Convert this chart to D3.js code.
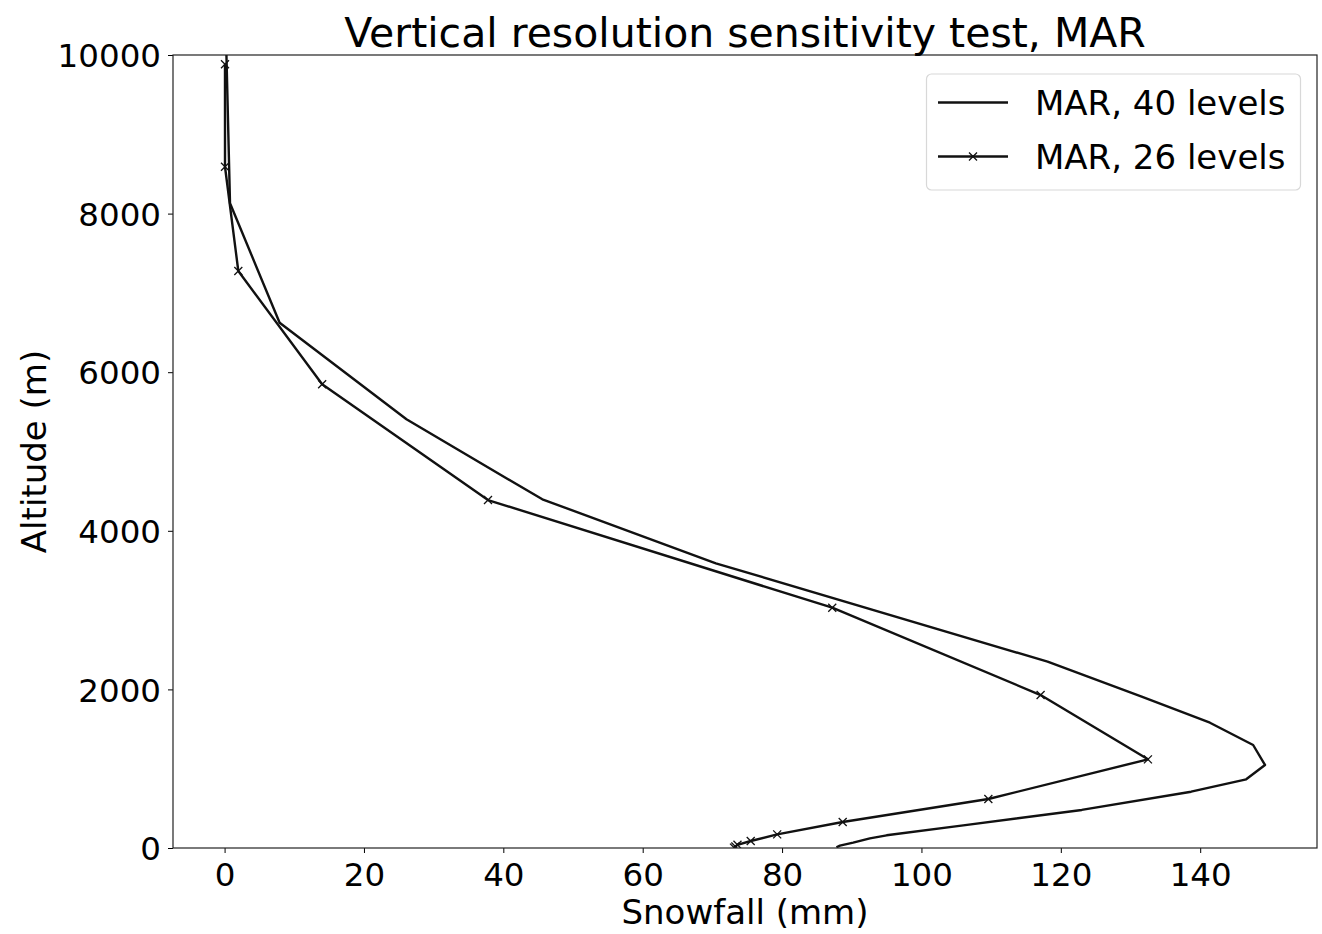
<!DOCTYPE html>
<html>
<head>
<meta charset="utf-8">
<script src="https://cdn.jsdelivr.net/npm/d3@7"></script>
<style>
  body { margin: 0; background: #fff; }
  svg text { font-family: "DejaVu Sans", sans-serif; fill: #000; }
</style>
</head>
<body>
<svg id="chart" width="1322" height="934"></svg>
<script>
// snowfall (mm) vs altitude (m)
const snow40 = [0.1, 0.78, 7.9, 26.1, 45.6, 70.5, 118.1, 131.6, 141.4, 147.6, 149.3, 146.6, 138.7, 123, 106, 95, 92.6, 90.2, 88.3, 87.8];
const alt40  = [10600, 8130, 6624, 5406, 4397, 3590, 2349, 1908, 1580, 1299, 1047, 866, 710, 480, 285, 160, 122, 67, 29, 9];

const snow26 = [0.06, 0.06, 1.97, 14.0, 37.8, 87.2, 117.1, 132.5, 109.6, 88.7, 79.3, 75.5, 73.6, 73.3, 73.1];
const alt26  = [9883, 8591, 7276, 5847, 4388, 3030, 1929, 1118, 618, 328, 172, 88, 40, 18, 5];

const xTicks = [0, 20, 40, 60, 80, 100, 120, 140];
const yTicks = [0, 2000, 4000, 6000, 8000, 10000];
const seriesNames = ["MAR, 40 levels", "MAR, 26 levels"];

const margin = { top: 55, right: 5, bottom: 86, left: 173 };
const width = 1322, height = 934;

const svg = d3.select("#chart");

// matplotlib style 5% padding on x
const allX = snow40.concat(snow26);
const [xmin, xmax] = d3.extent(allX);
const pad = (xmax - xmin) * 0.05;

const xScale = d3.scaleLinear()
    .domain([xmin - pad, xmax + pad])
    .range([margin.left, width - margin.right]);

const yScale = d3.scaleLinear()
    .domain([0, 10000])
    .range([height - margin.bottom, margin.top]);

svg.append("clipPath").attr("id", "plotClip")
    .append("rect")
    .attr("x", margin.left).attr("y", margin.top)
    .attr("width", width - margin.left - margin.right)
    .attr("height", height - margin.top - margin.bottom);

const line = d3.line()
    .x(d => xScale(d[0]))
    .y(d => yScale(d[1]));

const data40 = snow40.map((v, i) => [v, alt40[i]]);
const data26 = snow26.map((v, i) => [v, alt26[i]]);

const plot = svg.append("g").attr("clip-path", "url(#plotClip)");

plot.append("path")
    .datum(data40)
    .attr("fill", "none")
    .attr("stroke", "#111")
    .attr("stroke-width", 2.4)
    .attr("stroke-linejoin", "round")
    .attr("d", line);

plot.append("path")
    .datum(data26)
    .attr("fill", "none")
    .attr("stroke", "#111")
    .attr("stroke-width", 2.4)
    .attr("stroke-linejoin", "round")
    .attr("d", line);

const m = 4;
plot.selectAll(".mark")
    .data(data26)
    .enter()
    .append("path")
    .attr("class", "mark")
    .attr("transform", d => `translate(${xScale(d[0])},${yScale(d[1])})`)
    .attr("d", `M${-m},${-m}L${m},${m}M${-m},${m}L${m},${-m}`)
    .attr("stroke", "#111")
    .attr("stroke-width", 1.3);

// axes
const xAxis = svg.append("g")
    .attr("transform", `translate(0,${height - margin.bottom})`)
    .call(d3.axisBottom(xScale).tickValues(xTicks).tickSize(5).tickPadding(6));

const yAxis = svg.append("g")
    .attr("transform", `translate(${margin.left},0)`)
    .call(d3.axisLeft(yScale).tickValues(yTicks).tickFormat(d3.format("d")).tickSize(5).tickPadding(7));

[xAxis, yAxis].forEach(a => {
    a.select(".domain").remove();
    a.selectAll(".tick line").attr("stroke", "#000").attr("stroke-width", 1);
    a.selectAll(".tick text").style("font-size", "32.5px").attr("fill", "#000");
});
xAxis.selectAll(".tick text").attr("dy", "0.82em");
yAxis.selectAll(".tick text").attr("dy", "0.36em");

// frame
svg.append("rect")
    .attr("x", margin.left).attr("y", margin.top)
    .attr("width", width - margin.left - margin.right)
    .attr("height", height - margin.top - margin.bottom)
    .attr("fill", "none")
    .attr("stroke", "#222")
    .attr("stroke-width", 1.2);

// title and labels
svg.append("text")
    .attr("x", (margin.left + width - margin.right) / 2)
    .attr("y", 47)
    .attr("text-anchor", "middle")
    .style("font-size", "41px")
    .text("Vertical resolution sensitivity test, MAR");

svg.append("text")
    .attr("x", (margin.left + width - margin.right) / 2)
    .attr("y", 924)
    .attr("text-anchor", "middle")
    .style("font-size", "34px")
    .text("Snowfall (mm)");

svg.append("text")
    .attr("transform", `translate(46,${(margin.top + height - margin.bottom) / 2}) rotate(-90)`)
    .attr("text-anchor", "middle")
    .style("font-size", "34px")
    .text("Altitude (m)");

// legend
const legend = svg.append("g");
legend.append("rect")
    .attr("x", 926.5).attr("y", 74)
    .attr("width", 374).attr("height", 116)
    .attr("rx", 5)
    .attr("fill", "#fff")
    .attr("stroke", "#d8d8d8")
    .attr("stroke-width", 1.2);

seriesNames.forEach((name, i) => {
    const ly = 102.5 + i * 54;
    legend.append("line")
        .attr("x1", 938).attr("x2", 1008)
        .attr("y1", ly).attr("y2", ly)
        .attr("stroke", "#111").attr("stroke-width", 2.4);
    if (i === 1) {
        legend.append("path")
            .attr("transform", `translate(973,${ly})`)
            .attr("d", `M${-m},${-m}L${m},${m}M${-m},${m}L${m},${-m}`)
            .attr("stroke", "#111").attr("stroke-width", 1.3);
    }
    legend.append("text")
        .attr("x", 1035).attr("y", ly + 12)
        .style("font-size", "34px")
        .text(name);
});
</script>
</body>
</html>
